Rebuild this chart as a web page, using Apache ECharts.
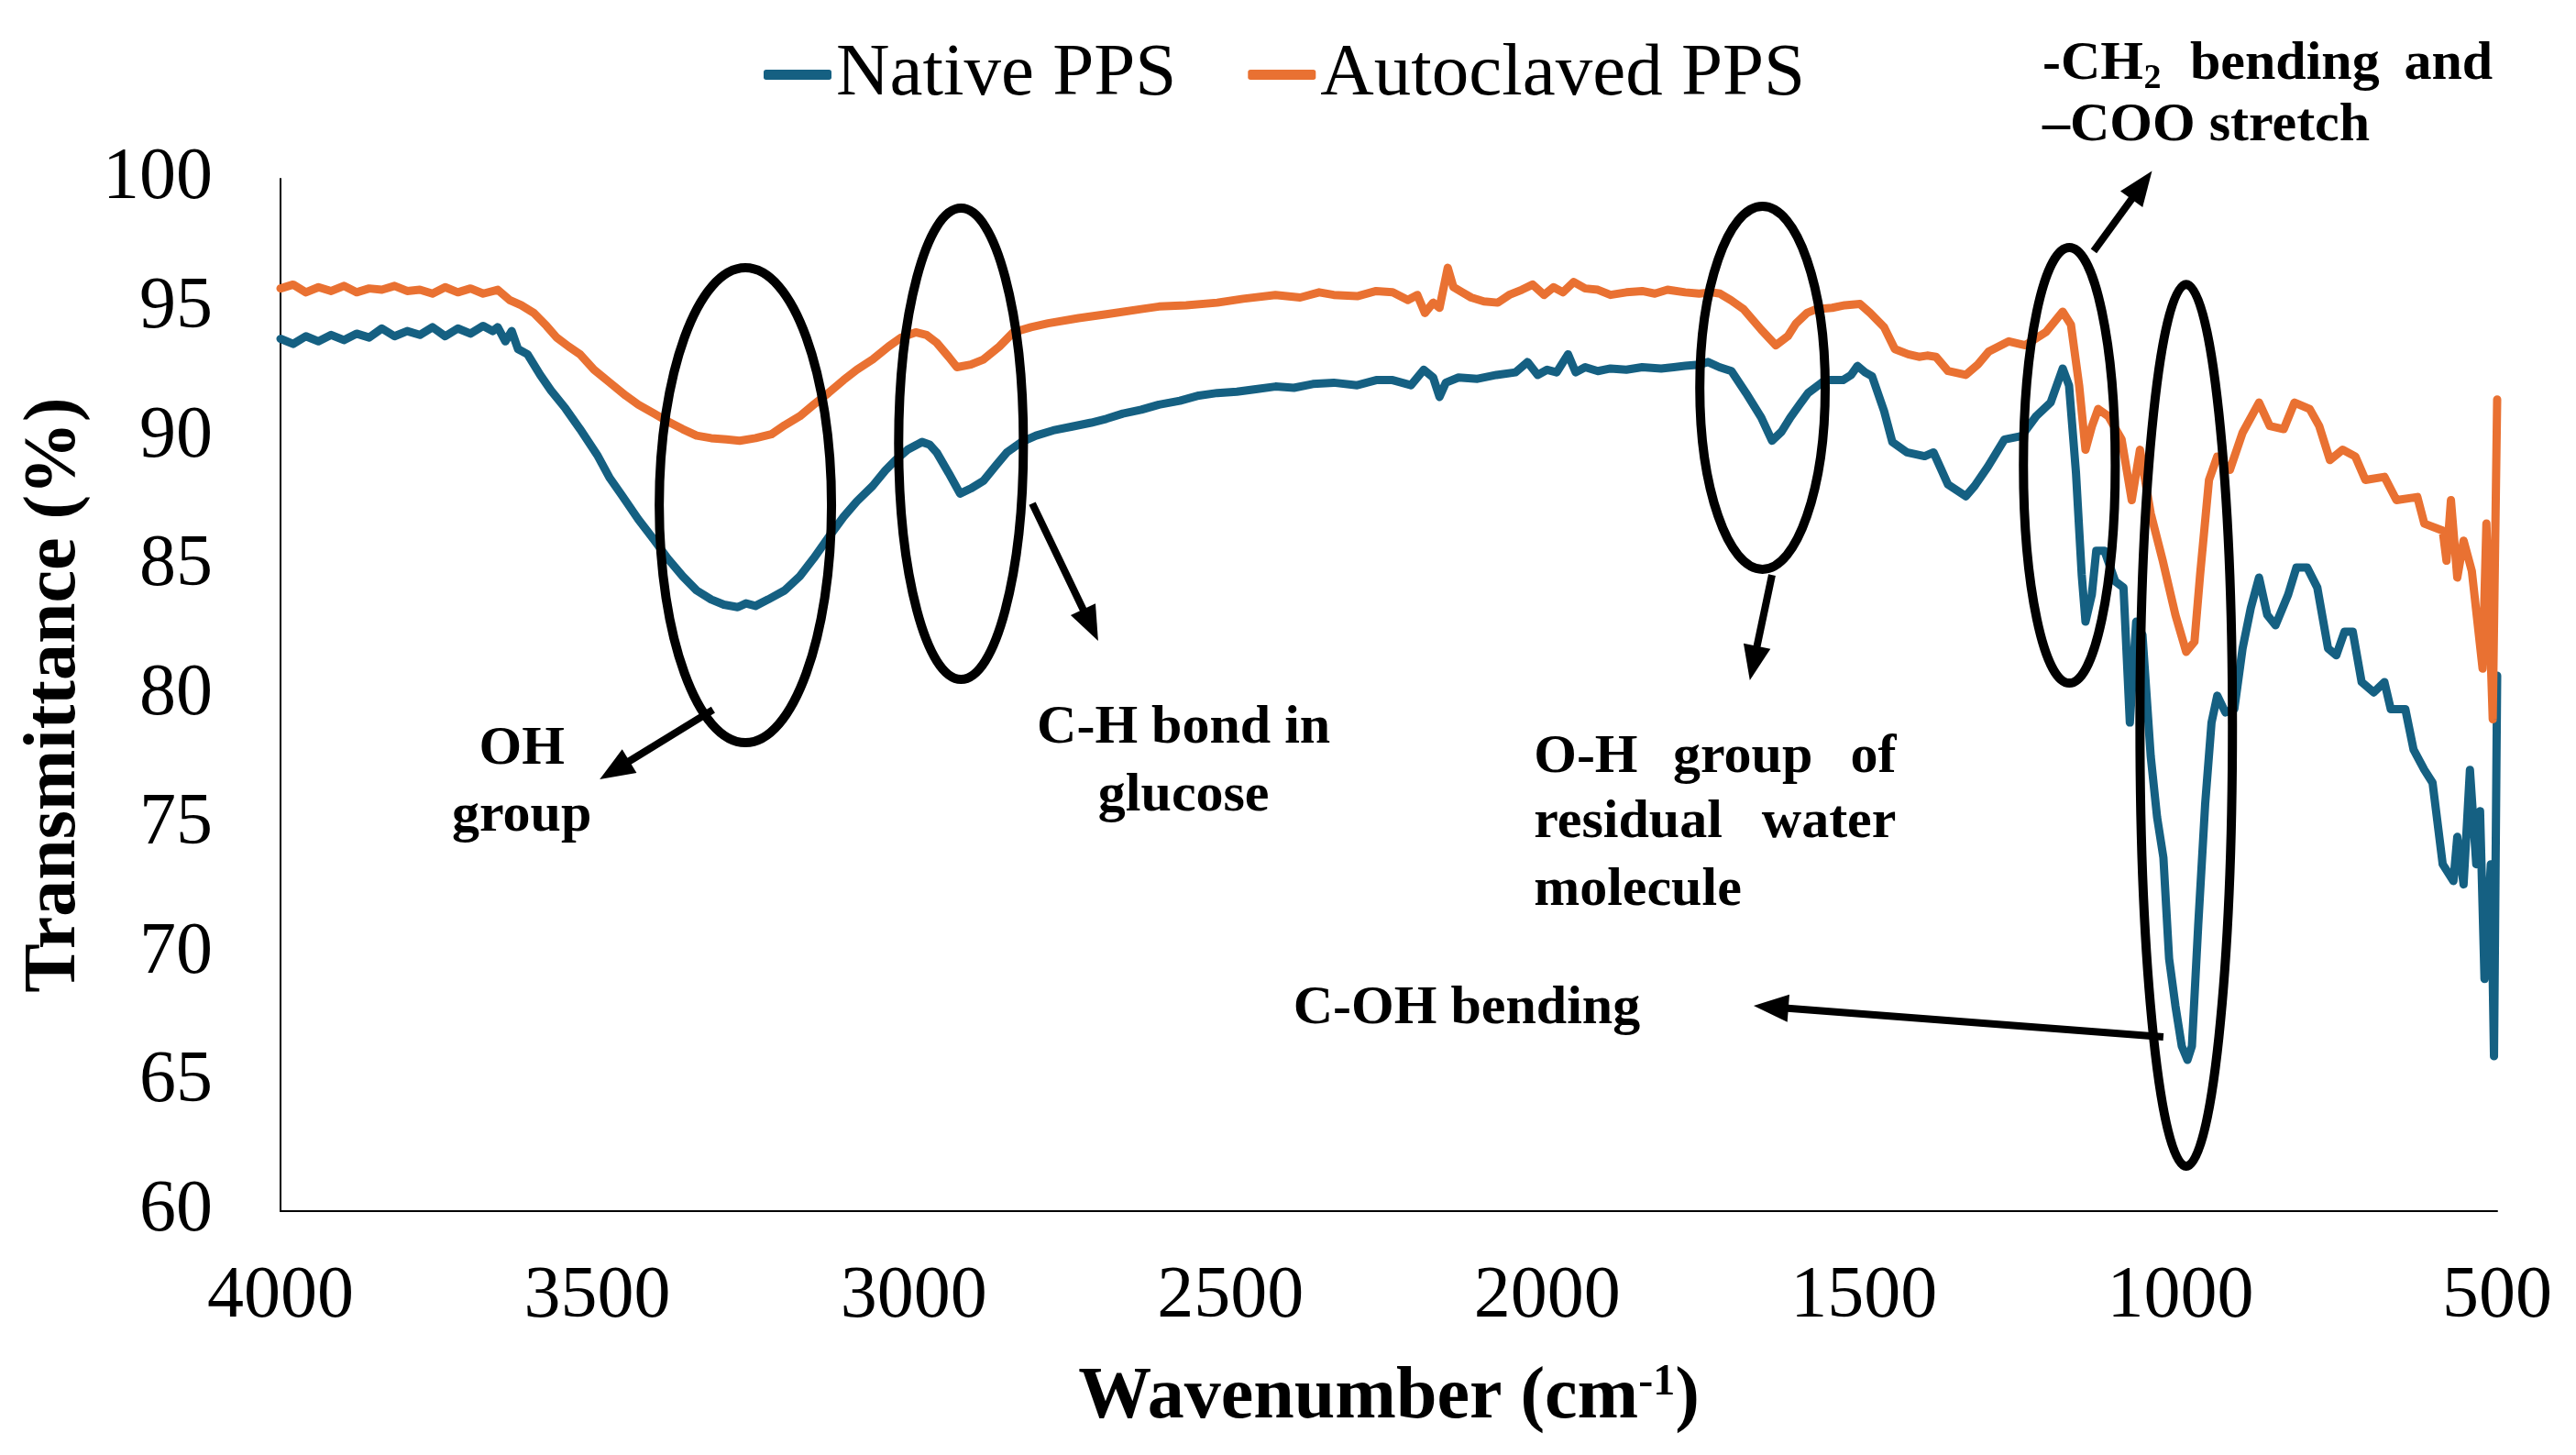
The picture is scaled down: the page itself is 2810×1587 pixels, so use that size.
<!DOCTYPE html>
<html>
<head>
<meta charset="utf-8">
<title>FTIR Native vs Autoclaved PPS</title>
<script src="https://cdn.jsdelivr.net/npm/echarts@6/dist/echarts.min.js"></script>
<style>
  html, body { margin: 0; padding: 0; background: #fff; }
  #chart { width: 2810px; height: 1587px; }
</style>
</head>
<body>
<div id="chart"></div>
<script>
// wavenumber (cm-1) and transmittance (%)
var wnNative = [4000, 3980, 3960, 3940, 3920, 3900, 3880, 3860, 3840, 3820, 3800, 3780, 3760, 3740, 3720, 3700, 3680, 3665, 3657, 3645, 3635, 3625, 3610, 3590, 3573, 3550, 3527, 3500, 3480, 3460, 3435, 3410, 3389, 3365, 3343, 3320, 3300, 3278, 3265, 3250, 3230, 3204, 3180, 3158, 3135, 3111, 3090, 3065, 3045, 3029, 3010, 2995, 2987, 2975, 2964, 2945, 2927, 2910, 2890, 2870, 2853, 2830, 2807, 2780, 2750, 2720, 2696, 2670, 2641, 2613, 2580, 2550, 2521, 2490, 2460, 2429, 2400, 2370, 2337, 2300, 2270, 2244, 2215, 2195, 2180, 2170, 2160, 2140, 2110, 2080, 2050, 2031, 2015, 2000, 1985, 1967, 1955, 1940, 1920, 1900, 1875, 1850, 1820, 1800, 1782, 1760, 1746, 1728, 1709, 1686, 1662, 1645, 1630, 1616, 1600, 1588, 1561, 1533, 1520, 1510, 1498, 1487, 1468, 1455, 1432, 1404, 1390, 1367, 1339, 1325, 1304, 1278, 1251, 1228, 1205, 1186, 1176, 1165, 1156, 1150, 1140, 1133, 1120, 1103, 1090, 1080, 1070, 1060, 1047, 1037, 1027, 1018, 1008, 998, 989, 982, 972, 961, 951, 942, 929, 915, 902, 889, 876, 863, 850, 830, 817, 800, 784, 767, 754, 741, 728, 714, 695, 678, 668, 645, 632, 615, 602, 586, 569, 563, 553, 543, 533, 527, 520, 510, 505, 500];
var tNative = [93.8, 93.6, 93.9, 93.7, 93.95, 93.75, 94.0, 93.85, 94.2, 93.9, 94.1, 93.95, 94.25, 93.9, 94.2, 94.0, 94.3, 94.1, 94.25, 93.7, 94.1, 93.4, 93.2, 92.4, 91.8, 91.1, 90.3, 89.3, 88.4, 87.7, 86.8, 86.0, 85.3, 84.6, 84.05, 83.7, 83.5, 83.4, 83.55, 83.45, 83.7, 84.05, 84.6, 85.3, 86.1, 86.9, 87.5, 88.1, 88.7, 89.1, 89.5, 89.7, 89.8, 89.7, 89.4, 88.6, 87.8, 88.0, 88.3, 88.9, 89.4, 89.8, 90.05, 90.25, 90.4, 90.55, 90.7, 90.9, 91.05, 91.25, 91.4, 91.6, 91.7, 91.75, 91.85, 91.95, 91.9, 92.05, 92.1, 92.0, 92.2, 92.2, 92.0, 92.6, 92.3, 91.55, 92.1, 92.3, 92.25, 92.4, 92.5, 92.9, 92.4, 92.6, 92.5, 93.2, 92.5, 92.7, 92.55, 92.65, 92.6, 92.7, 92.65, 92.7, 92.75, 92.8, 92.9, 92.7, 92.55, 91.7, 90.75, 89.85, 90.2, 90.75, 91.3, 91.7, 92.2, 92.2, 92.4, 92.75, 92.5, 92.35, 91.0, 89.8, 89.4, 89.25, 89.4, 88.15, 87.7, 88.1, 88.85, 89.9, 90.03, 90.8, 91.33, 92.65, 91.99, 88.6, 84.67, 82.84, 83.89, 85.59, 85.59, 84.4, 84.16, 78.93, 82.84, 82.32, 77.62, 75.27, 73.7, 69.78, 67.95, 66.39, 65.86, 66.39, 71.08, 75.79, 78.93, 79.97, 79.32, 79.45, 81.8, 83.37, 84.55, 83.1, 82.7, 83.89, 84.94, 84.94, 84.16, 81.8, 81.54, 82.45, 82.45, 80.5, 80.1, 80.5, 79.45, 79.45, 77.88, 77.1, 76.6, 73.44, 72.79, 74.5, 72.66, 77.1, 73.44, 75.5, 69.0, 73.44, 66.0, 80.75];

var wnAuto = [4000, 3980, 3960, 3940, 3920, 3900, 3880, 3860, 3840, 3820, 3800, 3780, 3760, 3740, 3720, 3700, 3680, 3657, 3638, 3620, 3600, 3580, 3564, 3545, 3527, 3505, 3480, 3455, 3435, 3410, 3389, 3365, 3343, 3320, 3296, 3275, 3250, 3225, 3204, 3180, 3158, 3135, 3111, 3090, 3065, 3040, 3020, 2997, 2980, 2964, 2945, 2932, 2910, 2890, 2865, 2843, 2815, 2788, 2740, 2696, 2641, 2613, 2570, 2521, 2480, 2429, 2390, 2360, 2337, 2300, 2270, 2244, 2220, 2205, 2193, 2180, 2170, 2157, 2148, 2134, 2120, 2100, 2078, 2060, 2040, 2023, 2005, 1990, 1975, 1958, 1940, 1920, 1900, 1875, 1850, 1830, 1810, 1782, 1760, 1740, 1727, 1710, 1690, 1662, 1639, 1620, 1607, 1590, 1575, 1550, 1530, 1506, 1490, 1468, 1451, 1430, 1413, 1400, 1386, 1367, 1339, 1320, 1303, 1271, 1245, 1212, 1186, 1173, 1160, 1150, 1140, 1130, 1114, 1093, 1077, 1064, 1047, 1028, 1008, 991, 978, 969, 955, 942, 922, 902, 876, 859, 837, 820, 796, 781, 764, 744, 724, 708, 678, 659, 626, 615, 586, 580, 573, 563, 553, 540, 523, 517, 507, 500];
var tAuto = [95.75, 95.9, 95.6, 95.8, 95.65, 95.85, 95.6, 95.75, 95.7, 95.85, 95.65, 95.7, 95.55, 95.8, 95.6, 95.75, 95.55, 95.7, 95.3, 95.1, 94.8, 94.3, 93.85, 93.5, 93.2, 92.6, 92.1, 91.6, 91.25, 90.9, 90.6, 90.3, 90.05, 89.95, 89.9, 89.85, 89.95, 90.1, 90.45, 90.8, 91.25, 91.7, 92.2, 92.6, 93.0, 93.5, 93.85, 94.05, 93.95, 93.65, 93.1, 92.7, 92.8, 93.0, 93.5, 94.05, 94.25, 94.4, 94.6, 94.75, 94.95, 95.05, 95.1, 95.2, 95.35, 95.5, 95.4, 95.6, 95.5, 95.45, 95.65, 95.6, 95.3, 95.5, 94.8, 95.2, 95.0, 96.55, 95.8, 95.6, 95.4, 95.25, 95.2, 95.5, 95.7, 95.9, 95.5, 95.8, 95.6, 96.0, 95.75, 95.7, 95.5, 95.6, 95.65, 95.55, 95.7, 95.6, 95.55, 95.6, 95.55, 95.3, 94.95, 94.15, 93.55, 93.9, 94.4, 94.8, 94.95, 95.0, 95.1, 95.15, 94.8, 94.25, 93.4, 93.2, 93.1, 93.15, 93.1, 92.55, 92.4, 92.8, 93.3, 93.7, 93.55, 94.07, 94.85, 94.35, 91.99, 89.5, 90.4, 91.08, 90.8, 89.9, 87.55, 89.5, 87.03, 85.2, 83.1, 81.67, 82.06, 84.67, 88.33, 89.24, 88.72, 90.16, 91.33, 90.42, 90.3, 91.33, 91.08, 90.42, 89.1, 89.5, 89.24, 88.33, 88.45, 87.55, 87.67, 86.64, 86.37, 85.2, 87.55, 84.55, 85.98, 84.8, 81.02, 86.64, 79.06, 91.45];

var seriesNames = ['Native PPS', 'Autoclaved PPS'];
var seriesColors = ['#156082', '#E97132'];
var xTicks = [500, 4000, 500];   // min, max, step
var yTicks = [60, 100, 5];

// annotation ellipses: [wn left, wn right, t top, t bottom]
var ellipses = [
    [3402, 3130, 96.55, 78.15],
    [3024, 2827, 98.86, 80.6],
    [1759, 1561, 98.93, 84.87],
    [1248, 1103, 97.34, 80.46],
    [1064, 918, 95.91, 61.74]
];
// arrows: [wn from, t from, wn to, t to]
var arrows = [
    [3317, 79.43, 3496, 76.73],
    [2813, 87.42, 2709, 82.1],
    [1645, 84.65, 1680, 80.57],
    [1137, 97.2, 1045, 100.3],
    [1027, 66.75, 1674, 67.96]
];
// annotation texts: [text, wn, t, align]
var notes = [
    ['OH', 3619, 77.9, 'center'],
    ['group', 3619, 75.31, 'center'],
    ['C-H bond in', 2574, 78.69, 'center'],
    ['glucose', 2574, 76.06, 'center'],
    ['O-H', 2021, 77.58, 'left'],
    ['group', 1691, 77.58, 'center'],
    ['of', 1449, 77.58, 'right'],
    ['residual', 2021, 75.03, 'left'],
    ['water', 1449, 75.03, 'right'],
    ['molecule', 2021, 72.4, 'left'],
    ['C-OH bending', 2127, 67.85, 'center'],
    ['-CH', 1218, 104.44, 'left'],
    ['bending', 985, 104.44, 'left'],
    ['and', 507, 104.44, 'right'],
    ['\u2013COO stretch', 1218, 102.06, 'left']
];
var subNotes = [
    ['2', 1058, 103.85, 'left']
];

var FONT = "'Liberation Serif', 'Times New Roman', serif";

function pairs(xs, ys) {
    return xs.map(function(x, i) { return [x, ys[i]]; });
}

var chart = echarts.init(document.getElementById('chart'));
var option = {
    animation: false,
    backgroundColor: '#fff',
    textStyle: { fontFamily: FONT, color: '#000' },
    grid: { left: 306, right: 86, top: 195, bottom: 266, containLabel: false },
    legend: {
        data: seriesNames,
        left: 828,
        top: 36,
        icon: 'roundRect',
        itemWidth: 74,
        itemHeight: 11,
        itemGap: 78,
        textStyle: { fontSize: 81, fontFamily: FONT, color: '#000' }
    },
    xAxis: {
        type: 'value',
        inverse: true,
        min: xTicks[0],
        max: xTicks[1],
        interval: xTicks[2],
        name: '{a|Wavenumber (cm}{b|-1}{a|)}',
        nameLocation: 'middle',
        nameGap: 164,
        nameTextStyle: {
            rich: {
                a: { fontSize: 80, fontWeight: 'bold', fontFamily: FONT, color: '#000', lineHeight: 80 },
                b: { fontSize: 48, fontWeight: 'bold', fontFamily: FONT, color: '#000', lineHeight: 50, verticalAlign: 'top' }
            }
        },
        axisLine: { show: true, lineStyle: { color: '#000', width: 2 } },
        axisTick: { show: false },
        splitLine: { show: false },
        axisLabel: {
            fontSize: 80, fontFamily: FONT, color: '#000', margin: 54,
            formatter: function(v) { return String(v); }
        }
    },
    yAxis: {
        type: 'value',
        min: yTicks[0],
        max: yTicks[1],
        interval: yTicks[2],
        name: 'Transmittance (%)',
        nameLocation: 'middle',
        nameGap: 206,
        nameTextStyle: { fontSize: 80, fontWeight: 'bold', fontFamily: FONT, color: '#000', lineHeight: 80 },
        axisLine: { show: true, lineStyle: { color: '#000', width: 2 } },
        axisTick: { show: false },
        splitLine: { show: false },
        axisLabel: { fontSize: 80, fontFamily: FONT, color: '#000', margin: 74 }
    },
    series: [
        {
            name: seriesNames[0],
            type: 'line',
            data: pairs(wnNative, tNative),
            showSymbol: false,
            symbol: 'none',
            color: seriesColors[0],
            lineStyle: { width: 9, color: seriesColors[0], cap: 'round', join: 'round' }
        },
        {
            name: seriesNames[1],
            type: 'line',
            data: pairs(wnAuto, tAuto),
            showSymbol: false,
            symbol: 'none',
            color: seriesColors[1],
            lineStyle: { width: 9, color: seriesColors[1], cap: 'round', join: 'round' }
        }
    ]
};
chart.setOption(option);

// annotations are placed from data coordinates
function px(wn, t) {
    return chart.convertToPixel({ xAxisIndex: 0, yAxisIndex: 0 }, [wn, t]);
}

var graphics = [];
ellipses.forEach(function(e) {
    var a = px(e[0], e[2]), b = px(e[1], e[3]);
    graphics.push({
        type: 'ellipse',
        shape: { cx: (a[0] + b[0]) / 2, cy: (a[1] + b[1]) / 2, rx: Math.abs(b[0] - a[0]) / 2, ry: Math.abs(b[1] - a[1]) / 2 },
        style: { fill: null, stroke: '#000', lineWidth: 10 },
        z: 100
    });
});
arrows.forEach(function(r) {
    var p0 = px(r[0], r[1]), p1 = px(r[2], r[3]);
    var dx = p1[0] - p0[0], dy = p1[1] - p0[1];
    var len = Math.sqrt(dx * dx + dy * dy);
    var ux = dx / len, uy = dy / len;
    var headLen = 38, headHalf = 15;
    var bx = p1[0] - ux * headLen, by = p1[1] - uy * headLen;
    graphics.push({
        type: 'line',
        shape: { x1: p0[0], y1: p0[1], x2: bx + ux * 4, y2: by + uy * 4 },
        style: { stroke: '#000', lineWidth: 8 },
        z: 100
    });
    graphics.push({
        type: 'polygon',
        shape: { points: [[p1[0], p1[1]], [bx - uy * headHalf, by + ux * headHalf], [bx + uy * headHalf, by - ux * headHalf]] },
        style: { fill: '#000' },
        z: 100
    });
});
notes.forEach(function(n) {
    var p = px(n[1], n[2]);
    graphics.push({
        type: 'text',
        x: p[0], y: p[1],
        style: { text: n[0], fill: '#000', font: 'bold 60px ' + FONT, align: n[3], verticalAlign: 'middle' },
        z: 100
    });
});
subNotes.forEach(function(n) {
    var p = px(n[1], n[2]);
    graphics.push({
        type: 'text',
        x: p[0], y: p[1],
        style: { text: n[0], fill: '#000', font: 'bold 38px ' + FONT, align: n[3], verticalAlign: 'middle' },
        z: 100
    });
});
chart.setOption({ graphic: graphics });
</script>
</body>
</html>
